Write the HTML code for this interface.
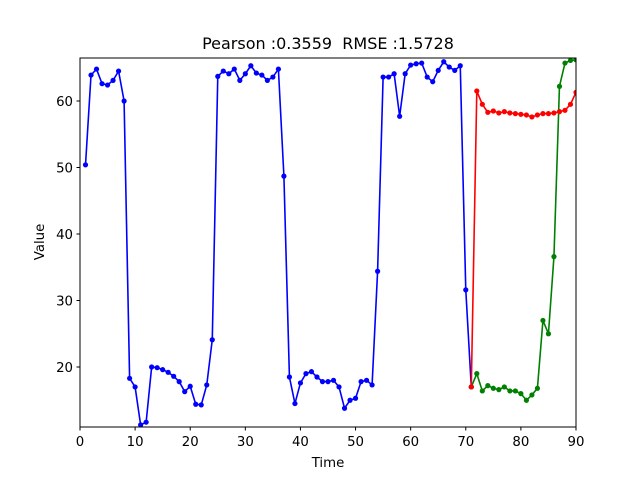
<!DOCTYPE html>
<html><head><meta charset="utf-8"><style>
body{margin:0;background:#fff}
svg text{font-family:"DejaVu Sans","Liberation Sans",sans-serif;fill:#000}
</style></head><body>
<svg width="640" height="480">
<rect width="640" height="480" fill="#fff"/>
<g id="plot"></g>
<rect x="80" y="58" width="496" height="369" fill="none" stroke="#000" stroke-width="1"/>
<text x="328" y="49" text-anchor="middle" font-size="16">Pearson :0.3559 &#160;RMSE :1.5728</text>
<text x="328" y="467" text-anchor="middle" font-size="13.3">Time</text>
<text x="0" y="0" transform="translate(44,242) rotate(-90)" text-anchor="middle" font-size="13.3">Value</text>
<g id="ticks"></g>
</svg>
<script>
const xTicks=[0,10,20,30,40,50,60,70,80,90];
const yTicks=[20,30,40,50,60];
const blueVals=[50.4,63.9,64.8,62.6,62.4,63.1,64.5,60.0,18.3,17.0,11.3,11.7,20.0,19.9,19.6,19.2,18.6,17.8,16.3,17.1,14.4,14.3,17.3,24.1,63.7,64.5,64.1,64.8,63.1,64.1,65.3,64.2,63.9,63.1,63.6,64.8,48.7,18.5,14.5,17.6,19.0,19.3,18.5,17.8,17.8,18.0,17.0,13.8,15.0,15.3,17.8,18.0,17.3,34.4,63.6,63.6,64.1,57.7,64.1,65.4,65.6,65.7,63.6,62.9,64.6,65.9,65.1,64.6,65.3,31.6,17.0];
const blueStart=1;
const redVals=[17.0,61.5,59.5,58.3,58.5,58.2,58.4,58.2,58.1,58.0,57.9,57.6,57.9,58.1,58.1,58.2,58.4,58.6,59.5,61.3];
const greenVals=[17.0,19.0,16.4,17.2,16.8,16.6,17.0,16.4,16.4,16.0,15.0,15.8,16.8,27.0,25.0,36.6,62.2,65.7,66.1,66.2];
const fcStart=71;
const X=v=>80+(v-0)/90*496;
const Y=v=>101+(60-v)*6.65;
const NS="http://www.w3.org/2000/svg";
const plot=document.getElementById('plot');
const clip=document.createElementNS(NS,'clipPath');clip.id='c';
const cr=document.createElementNS(NS,'rect');cr.setAttribute('x',80);cr.setAttribute('y',58);cr.setAttribute('width',496);cr.setAttribute('height',369);
clip.appendChild(cr);plot.appendChild(clip);plot.setAttribute('clip-path','url(#c)');
function series(vals,start,color,name){
  const pts=vals.map((v,i)=>[X(start+i),Y(v)]);
  const pl=document.createElementNS(NS,'polyline');
  pl.setAttribute('points',pts.map(p=>p.join(',')).join(' '));
  pl.setAttribute('fill','none');pl.setAttribute('stroke',color);pl.setAttribute('stroke-width','1.6');
  
  
  plot.appendChild(pl);
  pts.forEach(p=>{const c=document.createElementNS(NS,'circle');
    c.setAttribute('cx',p[0]);c.setAttribute('cy',p[1]);c.setAttribute('r',2.6);c.setAttribute('fill',color);
    
    
    plot.appendChild(c);});
}
series(blueVals,blueStart,'#0000ff','actual');
series(greenVals,fcStart,'#008000','forecast-green');
series(redVals,fcStart,'#ff0000','forecast-red');
const tg=document.getElementById('ticks');
xTicks.forEach(t=>{const x=X(t);
  const l=document.createElementNS(NS,'line');l.setAttribute('x1',x);l.setAttribute('x2',x);l.setAttribute('y1',427);l.setAttribute('y2',430.5);l.setAttribute('stroke','#000');
  
  
  tg.appendChild(l);
  const tx=document.createElementNS(NS,'text');tx.setAttribute('x',x);tx.setAttribute('y',446);tx.setAttribute('text-anchor','middle');tx.setAttribute('font-size','13.3');tx.textContent=t;
  
  
  tg.appendChild(tx);});
yTicks.forEach(t=>{const y=Y(t);
  const l=document.createElementNS(NS,'line');l.setAttribute('x1',76.5);l.setAttribute('x2',80);l.setAttribute('y1',y);l.setAttribute('y2',y);l.setAttribute('stroke','#000');
  
  
  tg.appendChild(l);
  const tx=document.createElementNS(NS,'text');tx.setAttribute('x',73);tx.setAttribute('y',y+5);tx.setAttribute('text-anchor','end');tx.setAttribute('font-size','13.3');tx.textContent=t;
  
  
  tg.appendChild(tx);});
</script>
</body></html>
